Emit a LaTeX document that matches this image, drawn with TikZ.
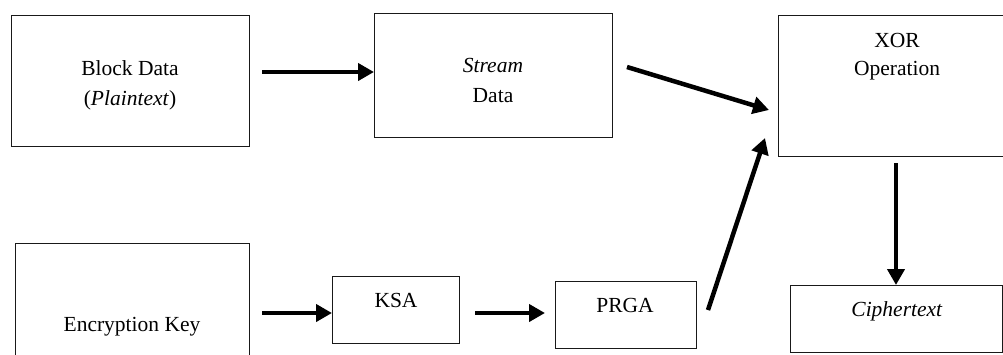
\documentclass[tikz,border=0pt]{standalone}
\usepackage{fontspec}
\setmainfont{Liberation Serif}
\usetikzlibrary{arrows.meta}
\begin{document}
\begin{tikzpicture}[x=1pt,y=-1pt,
  box/.style={draw=black!90, line width=1pt, inner sep=0pt, outer sep=0pt},
  lbl/.style={anchor=base, inner sep=0pt, font=\fontsize{21.5}{30}\selectfont},
  flow/.style={line width=4.5pt, -{Triangle[length=16pt,width=17pt]}}]
\path[use as bounding box] (0,0) rectangle (1003,354);
\path[clip] (0,0) rectangle (1003,354);
\fill[white] (0,0) rectangle (1003,354);
% boxes
\node[box, minimum width=238pt, minimum height=131pt] (block) at (130,80.5) {};
\node[box, minimum width=238pt, minimum height=124pt] (stream) at (493,75) {};
\node[box, minimum width=232pt, minimum height=141pt] (xor) at (894,85.5) {};
\node[box, minimum width=234pt, minimum height=127pt] (enc) at (132,306.5) {};
\node[box, minimum width=127pt, minimum height=67pt] (ksa) at (395.5,309.5) {};
\node[box, minimum width=141pt, minimum height=67pt] (prga) at (625.5,314.5) {};
\node[box, minimum width=212pt, minimum height=67pt] (cipher) at (896,318.5) {};
% texts
\node[lbl] (t1) at (130,75) {Block Data};
\node[lbl] (t2) at (130,105) {(\textit{Plaintext})};
\node[lbl] (t3) at (493,72) {\textit{Stream}};
\node[lbl] (t4) at (493,102) {Data};
\node[lbl] (t5) at (897,47) {XOR};
\node[lbl] (t6) at (897,75) {Operation};
\node[lbl] (t7) at (132,331) {Encryption Key};
\node[lbl] (t8) at (396,307) {KSA};
\node[lbl] (t9) at (625,312) {PRGA};
\node[lbl] (t10) at (897,316) {\textit{Ciphertext}};
% connector end points
\coordinate (a1s) at (262,72);   \coordinate (a1e) at (374,72);
\coordinate (a2s) at (627,67);   \coordinate (a2e) at (769,110);
\coordinate (a3s) at (708,310);  \coordinate (a3e) at (765,138);
\coordinate (a4s) at (896,163);  \coordinate (a4e) at (896,285);
\coordinate (a5s) at (262,313);  \coordinate (a5e) at (332,313);
\coordinate (a6s) at (475,313);  \coordinate (a6e) at (545,313);
% connectors
\draw[flow] (a1s) -- (a1e);
\draw[flow] (a2s) -- (a2e);
\draw[flow] (a3s) -- (a3e);
\draw[flow] (a4s) -- (a4e);
\draw[flow] (a5s) -- (a5e);
\draw[flow] (a6s) -- (a6e);
\end{tikzpicture}
\end{document}
